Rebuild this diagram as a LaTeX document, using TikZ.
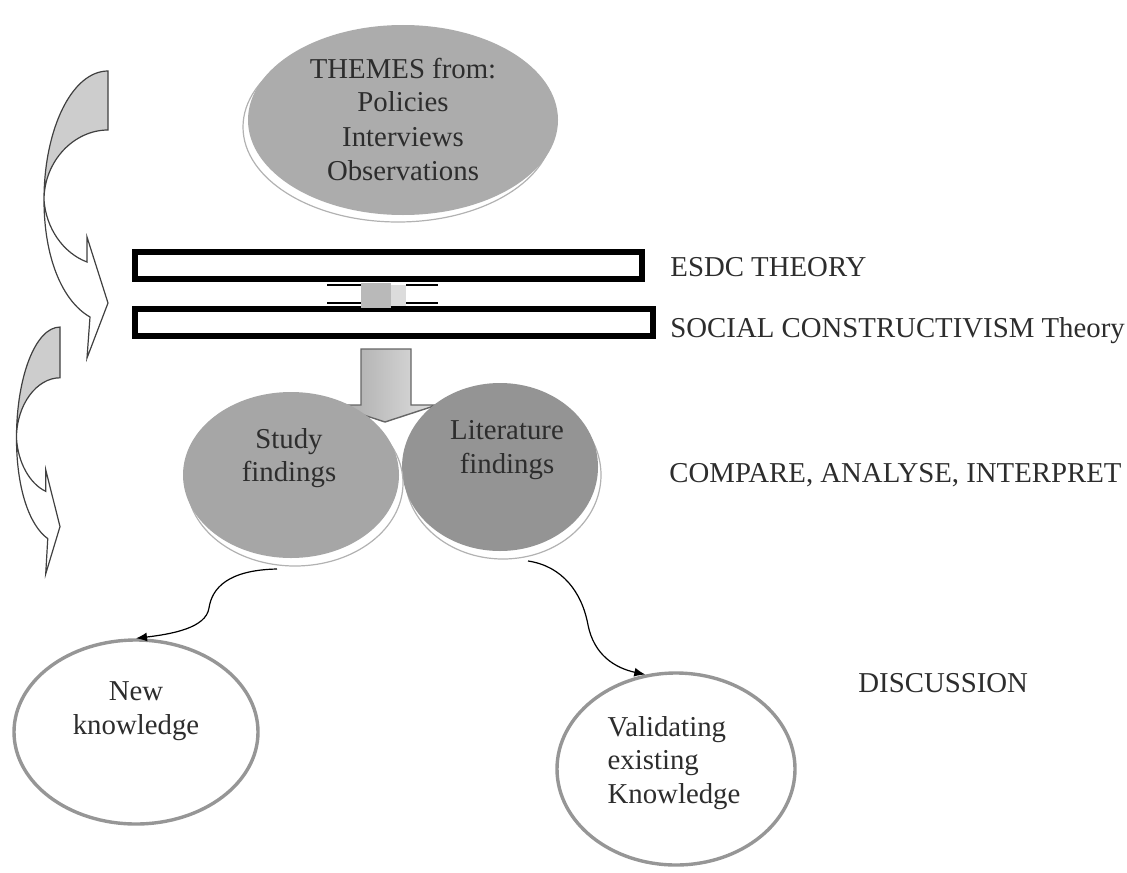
\documentclass[tikz,border=0pt]{standalone}
\usepackage{fontspec}
\setmainfont{Liberation Serif}
\usetikzlibrary{shapes.geometric,arrows.meta}
\definecolor{themesfill}{RGB}{172,172,172}
\definecolor{studyfill}{RGB}{166,166,166}
\definecolor{litfill}{RGB}{148,148,148}
\definecolor{ringgray}{RGB}{150,150,150}
\definecolor{arrgray}{RGB}{205,205,205}
\definecolor{blockgray}{RGB}{185,185,185}
\definecolor{blocklight}{RGB}{220,220,220}
\definecolor{txtcol}{RGB}{45,45,45}
\begin{document}
\begin{tikzpicture}[x=0.5pt,y=-0.5pt,
  txt/.style={font=\fontsize{14.4}{16.8}\selectfont, text=txtcol, align=center, inner sep=0pt},
  lbl/.style={font=\fontsize{14.4}{16.8}\selectfont, text=txtcol, anchor=base west, inner sep=0pt},
  blob/.style={ellipse, inner sep=0pt, draw=none},
  rim/.style={ellipse, inner sep=0pt, fill=white, draw=black!30, line width=0.6pt},
  ring/.style={ellipse, inner sep=0pt, draw=ringgray, line width=1.7pt, fill=white},
  bar/.style={rectangle, inner sep=0pt, draw=black, line width=3pt, fill=white},
  link/.style={-{Latex[length=5.5pt,width=4.5pt]}, line width=0.6pt, black},
  backpart/.style={fill=arrgray, draw=black!75, line width=0.6pt},
  frontpart/.style={fill=white, draw=black!75, line width=0.6pt},
  curvarr/.pic={
    \path[backpart] (0,-129) .. controls (-36,-129) and (-64,-71) .. (-64,0)
       .. controls (-64,-39) and (-34,-70) .. (0,-70) -- cycle;
    \path[frontpart] (-64,0) .. controls (-64,57) and (-46,101) .. (-18,117)
       -- (-21,158) -- (0,103) -- (-21,37) -- (-21,62)
       .. controls (-45,53) and (-62,28) .. (-64,0) -- cycle;
  }
]
\useasboundingbox (0,0) rectangle (1127,872);

% left curved arrows
\pic at (108,200) {curvarr};
\pic[xscale=0.68,yscale=0.86] at (60,438) {curvarr};

% top ellipse
\node[rim, minimum width=155pt, minimum height=95pt] (themesrim) at (398,127) {};
\node[blob, fill=themesfill, minimum width=155pt, minimum height=95pt] (themes) at (403,120) {};
\node[txt, font=\fontsize{14.4}{17}\selectfont] (themestxt) at (403,119) {THEMES from:\\Policies\\Interviews\\Observations};

% bars
\node[bar, minimum width=253.5pt, minimum height=13.5pt] (bar1) at (388.5,265.5) {};
\node[bar, minimum width=259pt, minimum height=13.5pt] (bar2) at (394,322.5) {};
\node[lbl] (esdc) at (670,276) {ESDC THEORY};
\node[lbl] (sct) at (670,337) {SOCIAL CONSTRUCTIVISM Theory};

% small connector between bars
\fill[blockgray] (361,283) rectangle (391,308);
\fill[blocklight] (391,285) rectangle (406,306);
\draw[black, line width=1pt] (327,284.5) -- (361,284.5) (327,302.5) -- (361,302.5)
  (406,284.5) -- (438,284.5) (406,302.5) -- (438,302.5);

% down block arrow
\path[left color=black!35, right color=black!12, draw=black!60, line width=0.7pt]
  (361,349) -- (411,349) -- (411,405) -- (437,405) -- (385,422) -- (333,405) -- (361,405) -- cycle;

% findings
\node[rim, minimum width=98pt, minimum height=84pt] (litrim) at (503,475) {};
\node[blob, fill=litfill, minimum width=98pt, minimum height=84pt] (lit) at (500,467) {};
\node[rim, minimum width=108pt, minimum height=83pt] (studyrim) at (295,483) {};
\node[blob, fill=studyfill, minimum width=108pt, minimum height=83pt] (study) at (291,475) {};
\node[txt] (studytxt) at (289,458) {Study\\findings};
\node[txt] (littxt) at (507,450) {Literature\\findings};
\node[lbl] (cmp) at (669,482) {COMPARE, ANALYSE, INTERPRET};

% outcomes
\node[ring, minimum width=122pt, minimum height=92pt] (nk) at (136,732) {};
\node[txt] (nktxt) at (136,711) {New\\knowledge};
\node[ring, minimum width=119pt, minimum height=96pt] (val) at (676,769) {};
\node[txt, align=left] (valtxt) at (674,763) {Validating\\existing\\Knowledge};
\node[lbl] (disc) at (858,692) {DISCUSSION};

% connectors
\coordinate (s1) at (277,569);
\coordinate (s2) at (528,561);
\draw[link] (s1) .. controls (228,570) and (212,588) .. (209,608)
  .. controls (206,628) and (172,634) .. (nk.north);
\draw[link] (s2) .. controls (562,566) and (582,592) .. (588,625)
  .. controls (594,655) and (615,668) .. (val.108);
\end{tikzpicture}
\end{document}
